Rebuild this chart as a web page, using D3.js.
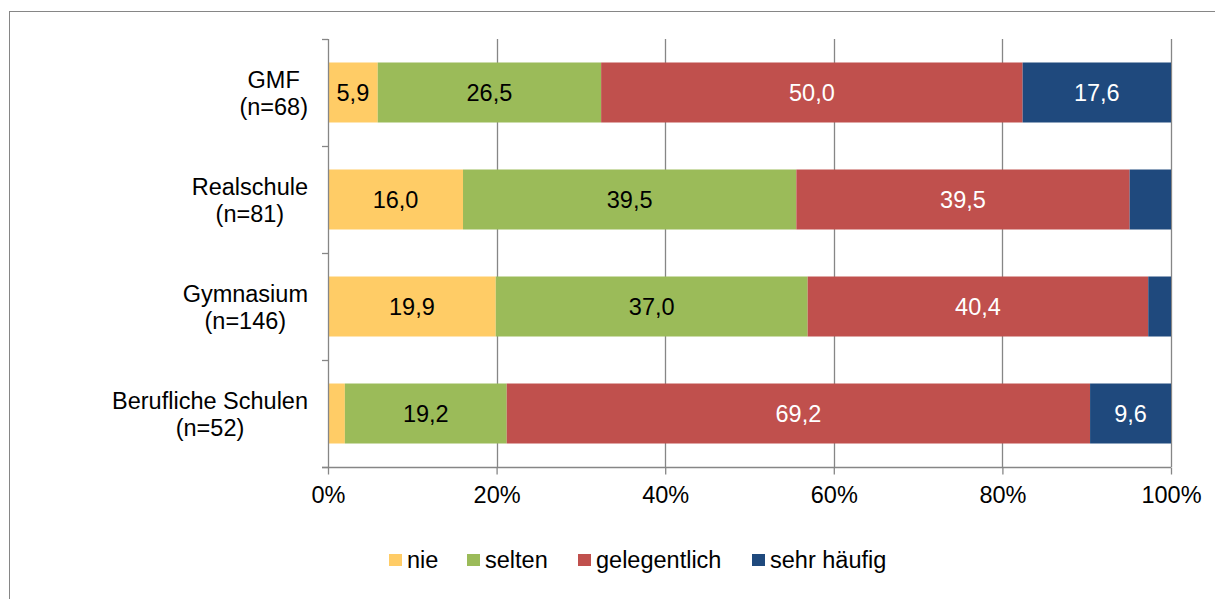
<!DOCTYPE html>
<html>
<head>
<meta charset="utf-8">
<script src="https://cdn.jsdelivr.net/npm/d3@7"></script>
<style>
  html, body { margin: 0; padding: 0; background: #fff; }
  svg { display: block; font-family: "Liberation Sans", Arial, sans-serif; }
</style>
</head>
<body>
<svg id="chart" width="1215" height="599"></svg>
<script>
// Schulform labels (two lines each)
const categories = ["GMF", "Realschule", "Gymnasium", "Berufliche Schulen"];
const sampleSizes = ["(n=68)", "(n=81)", "(n=146)", "(n=52)"];

// Response categories
const seriesNames = ["nie", "selten", "gelegentlich", "sehr häufig"];

// Percentages per Schulform, one array per response category
const nie          = [5.9, 16.0, 19.9, 2.0];
const selten       = [26.5, 39.5, 37.0, 19.2];
const gelegentlich = [50.0, 39.5, 40.4, 69.2];
const sehrHaeufig  = [17.6, 4.9, 2.7, 9.6];

// Which segments show a value label
const showLabel = [
  [true, true, true, true],
  [true, true, true, false],
  [true, true, true, false],
  [false, true, true, true]
];

const xTicks = [0, 20, 40, 60, 80, 100];

const colors = ["#FFCC66", "#9BBB59", "#C0504D", "#1F497D"];
const labelColors = ["#000", "#000", "#fff", "#fff"];
const FS = 23.5;

const seriesValues = [nie, selten, gelegentlich, sehrHaeufig];
const rows = categories.map((c, i) => {
  const r = { cat: c };
  seriesNames.forEach((s, j) => { r[s] = seriesValues[j][i]; });
  return r;
});

const svg = d3.select("#chart");

// outer frame
svg.append("rect")
  .attr("x", 9.5).attr("y", 11.5)
  .attr("width", 1300).attr("height", 700)
  .attr("fill", "none").attr("stroke", "#868686").attr("stroke-width", 1);

const plotLeft = 328, plotRight = 1171, plotTop = 39, plotBottom = 467;

const x = d3.scaleLinear().domain([0, 100]).range([plotLeft, plotRight]);
const y = d3.scaleBand().domain(categories).range([plotTop, plotBottom]).paddingInner(0.4393).paddingOuter(0.2196);

// vertical gridlines
svg.append("g").selectAll("line")
  .data(xTicks.slice(1))
  .join("line")
  .attr("x1", d => Math.round(x(d)) + 0.5).attr("x2", d => Math.round(x(d)) + 0.5)
  .attr("y1", plotTop).attr("y2", plotBottom)
  .attr("stroke", "#868686").attr("stroke-width", 1.3);

// stacked bars, each row scaled to a full 100 %
const stack = d3.stack().keys(seriesNames).offset(d3.stackOffsetExpand)(rows);

const layers = svg.append("g").selectAll("g")
  .data(stack)
  .join("g")
  .attr("fill", (d, i) => colors[i]);

layers.selectAll("rect")
  .data(d => d)
  .join("rect")
  .attr("x", d => x(d[0] * 100))
  .attr("y", d => y(d.data.cat))
  .attr("width", d => x(d[1] * 100) - x(d[0] * 100))
  .attr("height", y.bandwidth());

// value labels
const fmt = v => v.toFixed(1).replace(".", ",");
stack.forEach((layer, j) => {
  svg.append("g").selectAll("text")
    .data(layer.filter((d, i) => showLabel[i][j]))
    .join("text")
    .attr("x", d => (x(d[0] * 100) + x(d[1] * 100)) / 2)
    .attr("y", d => y(d.data.cat) + y.bandwidth() / 2)
    .attr("dy", "0.35em")
    .attr("text-anchor", "middle")
    .attr("font-size", FS)
    .attr("fill", labelColors[j])
    .text(d => fmt(d.data[seriesNames[j]]));
});

// y axis line and ticks at band boundaries
const yAxis = svg.append("g").attr("stroke", "#868686").attr("stroke-width", 1.3);
yAxis.append("line")
  .attr("x1", plotLeft + 0.5).attr("x2", plotLeft + 0.5)
  .attr("y1", plotTop).attr("y2", plotBottom);
d3.range(categories.length + 1).forEach(i => {
  const yy = Math.round(plotTop + i * (plotBottom - plotTop) / categories.length) + 0.5;
  yAxis.append("line").attr("x1", plotLeft - 6).attr("x2", plotLeft).attr("y1", yy).attr("y2", yy);
});

// x axis
const xAxis = svg.append("g").attr("transform", `translate(0,${plotBottom + 0.5})`)
  .call(d3.axisBottom(x).tickValues(xTicks).tickFormat(d => d + "%").tickSize(7).tickPadding(12));
xAxis.select(".domain").attr("stroke", "#868686").attr("stroke-width", 1.3)
  .attr("d", `M${plotLeft - 6},0H${plotRight}`);
xAxis.selectAll(".tick line").attr("stroke", "#868686").attr("stroke-width", 1.3);
xAxis.selectAll(".tick text")
  .attr("font-size", FS).attr("fill", "#000")
  .attr("font-family", "Liberation Sans, Arial, sans-serif");

// category labels, two centered lines, block right aligned
categories.forEach((c, i) => {
  const cy = y(c) + y.bandwidth() / 2;
  const g = svg.append("g");
  const t1 = g.append("text").attr("font-size", FS).attr("fill", "#000").text(c);
  const t2 = g.append("text").attr("font-size", FS).attr("fill", "#000").text(sampleSizes[i]);
  const w = Math.max(t1.node().getComputedTextLength(), t2.node().getComputedTextLength());
  const cx = 308 - w / 2;
  t1.attr("x", cx).attr("y", cy - 12.5).attr("dy", "0.35em").attr("text-anchor", "middle");
  t2.attr("x", cx).attr("y", cy + 14).attr("dy", "0.35em").attr("text-anchor", "middle");
});

// legend
const legendX = [389, 467, 578, 752];
const legend = svg.append("g").selectAll("g")
  .data(seriesNames)
  .join("g")
  .attr("transform", (d, i) => `translate(${legendX[i]},560)`);
legend.append("rect")
  .attr("x", 0).attr("y", -6).attr("width", 13).attr("height", 12)
  .attr("fill", (d, i) => colors[i]);
legend.append("text")
  .attr("x", 18).attr("y", 0).attr("dy", "0.35em")
  .attr("font-size", FS).attr("fill", "#000")
  .text(d => d);
</script>
</body>
</html>
